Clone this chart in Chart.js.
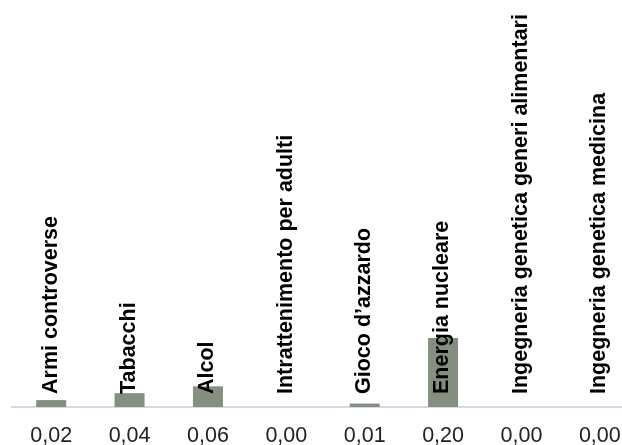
<!DOCTYPE html>
<html>
<head>
<meta charset="utf-8">
<script src="https://cdn.jsdelivr.net/npm/chart.js@4"></script>
<style>
    html, body { margin: 0; padding: 0; background: #fff; overflow: hidden; }
    #wrap { width: 642px; height: 445px; }
</style>
</head>
<body>
<div id="wrap"><canvas id="chart"></canvas></div>
<script>
// Data
const categories = [
    'Armi controverse',
    'Tabacchi',
    'Alcol',
    'Intrattenimento per adulti',
    "Gioco d\u2019azzardo",
    'Energia nucleare',
    'Ingegneria genetica generi alimentari',
    'Ingegneria genetica medicina'
];
const values = [0.02, 0.04, 0.06, 0.00, 0.01, 0.20, 0.00, 0.00];
const tickLabels = ['0,02', '0,04', '0,06', '0,00', '0,01', '0,20', '0,00', '0,00'];

const FONT = '"Liberation Sans", Arial, sans-serif';

// Category names drawn vertically above each bar
const categoryLabels = {
    id: 'categoryLabels',
    afterDatasetsDraw(chart) {
        const ctx = chart.ctx;
        const x = chart.scales.x;
        const y = chart.scales.y;
        const base = y.getPixelForValue(0);
        ctx.save();
        ctx.font = 'bold 21.5px ' + FONT;
        ctx.fillStyle = '#000';
        ctx.textAlign = 'left';
        ctx.textBaseline = 'middle';
        categories.forEach((name, i) => {
            ctx.save();
            ctx.translate(x.getPixelForValue(i) - 0.5, base - 13);
            ctx.rotate(-Math.PI / 2);
            ctx.fillText(name, 0, 0);
            ctx.restore();
        });
        ctx.restore();
    }
};

new Chart(document.getElementById('chart'), {
    type: 'bar',
    data: {
        labels: tickLabels,
        datasets: [{
            data: values,
            backgroundColor: '#848f7f',
            borderWidth: 0,
            barPercentage: 0.383,
            categoryPercentage: 1
        }]
    },
    options: {
        responsive: true,
        maintainAspectRatio: false,
        animation: false,
        devicePixelRatio: 1,
        layout: { padding: { left: 12, right: 3, top: 62, bottom: 0 } },
        plugins: {
            legend: { display: false },
            tooltip: { enabled: false }
        },
        scales: {
            x: {
                grid: { display: false, drawTicks: false },
                border: { display: true, color: '#d3d9e6', width: 2 },
                ticks: {
                    color: '#222',
                    font: { family: FONT, size: 21.5 },
                    padding: 16,
                    maxRotation: 0,
                    autoSkip: false
                },
                afterFit(scale) {
                    scale.height = 38;
                }
            },
            y: {
                display: false,
                min: 0,
                max: 1
            }
        }
    },
    plugins: [categoryLabels]
});
</script>
</body>
</html>
